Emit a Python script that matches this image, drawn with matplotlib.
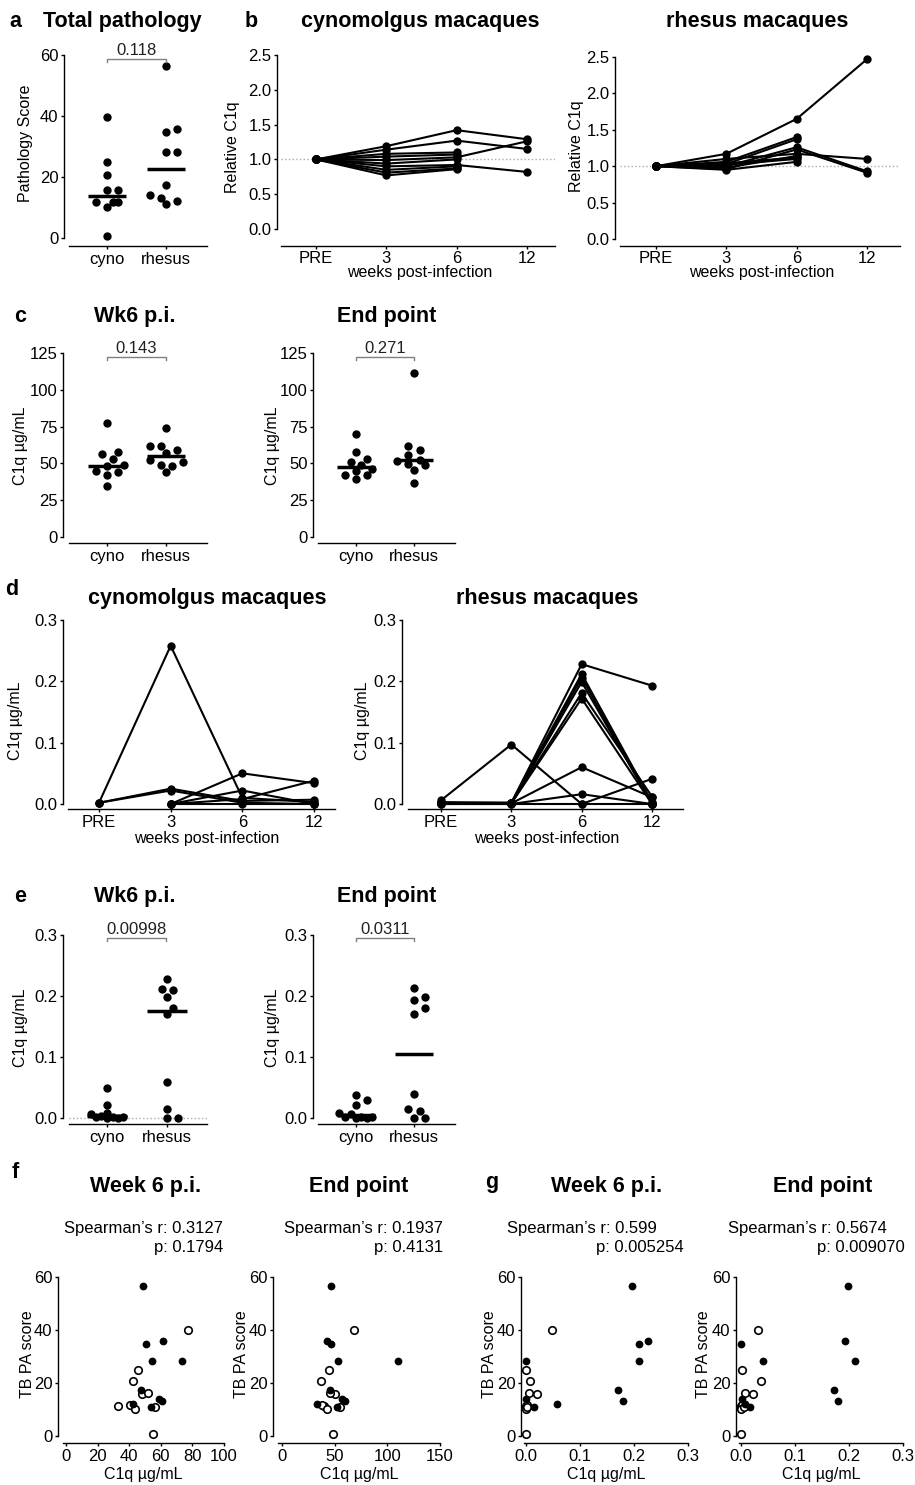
import numpy as np
import matplotlib
matplotlib.use('Agg')
import matplotlib.pyplot as plt
from matplotlib.lines import Line2D

plt.rcParams['font.family'] = ['Liberation Sans', 'DejaVu Sans']

# ---- data ----
groups = ['cyno', 'rhesus']
weeks = ['PRE', '3', '6', '12']
nan = np.nan

# a: total pathology score
path_cyno = [39.8, 24.8, 20.8, 15.8, 15.8, 11.8, 11.8, 11.8, 10.1, 0.7]
path_rhesus = [56.5, 35.9, 34.8, 28.2, 28.2, 17.3, 14.0, 13.2, 12.2, 11.3]
p_path = '0.118'

# b: relative C1q over time (PRE, 3, 6, 12 weeks)
rel_cyno = [
    [1, 1.19, 1.42, 1.29],
    [1, 1.14, 1.27, 1.15],
    [1, 1.08, 1.10, nan],
    [1, 1.04, 1.07, nan],
    [1, 0.99, 1.03, 1.26],
    [1, 0.94, 1.00, nan],
    [1, 0.90, 0.92, 0.82],
    [1, 0.85, 0.90, nan],
    [1, 0.81, 0.87, nan],
    [1, 0.77, 0.86, nan],
]
rel_rhesus = [
    [1, 1.17, 1.65, 2.47],
    [1, 1.06, 1.40, nan],
    [1, 1.03, 1.37, nan],
    [1, 1.00, 1.26, 0.93],
    [1, 0.96, 1.23, 0.91],
    [1, 1.10, 1.17, 1.10],
    [1, 0.98, 1.14, nan],
    [1, 1.02, 1.10, nan],
    [1, 0.95, 1.06, nan],
    [1, 1.04, 1.12, nan],
]

# c: C1q ug/mL
c_wk6_cyno = [77.4, 57.5, 56.6, 52.8, 49.1, 48.0, 44.6, 43.9, 41.9, 34.4]
c_wk6_rhesus = [74.0, 61.6, 61.6, 59.3, 57.0, 52.5, 50.7, 49.1, 48.5, 44.2]
c_end_cyno = [70.2, 57.5, 53.2, 50.7, 49.1, 46.5, 45.0, 41.9, 41.9, 39.4]
c_end_rhesus = [111.4, 61.6, 59.3, 55.5, 52.5, 51.5, 49.5, 49.0, 45.3, 36.7]
p_c_wk6 = '0.143'
p_c_end = '0.271'

# d: C1q ug/mL over time
d_cyno = [
    [0.002, 0.258, 0.010, 0.003],
    [0.002, 0.025, 0.005, 0.007],
    [0.002, 0.022, 0.002, 0.000],
    [nan, 0.000, 0.050, 0.034],
    [nan, 0.000, 0.022, 0.000],
    [nan, 0.000, 0.008, 0.038],
    [nan, 0.000, 0.000, 0.000],
]
d_rhesus = [
    [0.006, 0.097, 0.000, 0.041],
    [0.003, 0.002, 0.228, 0.193],
    [0.002, 0.002, 0.212, 0.003],
    [0.001, 0.001, 0.206, 0.000],
    [0.001, 0.001, 0.199, 0.000],
    [0.001, 0.001, 0.181, 0.012],
    [0.001, 0.001, 0.172, 0.000],
    [0.001, 0.001, 0.060, 0.011],
    [0.000, 0.000, 0.016, 0.000],
    [0.000, 0.000, 0.000, 0.000],
]

# e: C1q ug/mL
e_wk6_cyno = [0.049, 0.021, 0.008, 0.007, 0.003, 0.002, 0.001, 0.001, 0.0, 0.0]
e_wk6_rhesus = [0.228, 0.212, 0.210, 0.198, 0.181, 0.171, 0.059, 0.015, 0.0, 0.0]
e_end_cyno = [0.037, 0.030, 0.021, 0.008, 0.007, 0.002, 0.001, 0.001, 0.0, 0.0]
e_end_rhesus = [0.213, 0.198, 0.193, 0.180, 0.171, 0.040, 0.015, 0.011, 0.0, 0.0]
p_e_wk6 = '0.00998'
p_e_end = '0.0311'

# f/g: TB PA score vs C1q
score_rhesus = [56.6, 34.9, 35.9, 28.4, 28.4, 17.3, 13.8, 13.3, 11.9, 11.0]
score_cyno = [39.9, 24.8, 20.8, 15.7, 16.1, 11.3, 11.7, 10.3, 11.0, 0.6]
f_wk6_rhesus = [48.5, 50.6, 61.2, 54.2, 73.6, 47.5, 59.1, 61.0, 42.6, 53.6]
f_wk6_cyno = [77.0, 45.4, 42.6, 47.9, 52.1, 33.1, 40.5, 43.7, 56.3, 55.3]
f_end_rhesus = [46.7, 46.7, 42.6, 52.7, 110.5, 45.8, 56.8, 59.4, 33.2, 52.1]
f_end_cyno = [67.9, 44.2, 36.9, 50.5, 45.8, 40.1, 37.9, 42.6, 55.3, 48.0]
g_wk6_rhesus = [0.196, 0.209, 0.226, 0.210, 0.0, 0.170, 0.0, 0.179, 0.057, 0.014]
g_wk6_cyno = [0.049, 0.0, 0.007, 0.020, 0.006, 0.0, 0.002, 0.0, 0.001, 0.0]
g_end_rhesus = [0.198, 0.0, 0.192, 0.212, 0.040, 0.172, 0.001, 0.180, 0.008, 0.016]
g_end_cyno = [0.031, 0.001, 0.037, 0.022, 0.008, 0.0, 0.002, 0.0, 0.005, 0.0]
spearman = {
    'f_wk6': ('0.3127', '0.1794'),
    'f_end': ('0.1937', '0.4131'),
    'g_wk6': ('0.599', '0.005254'),
    'g_end': ('0.5674', '0.009070'),
}

# ---- layout (all in pixels of the 915x1485 canvas) ----
W, H = 915, 1485
fig = plt.figure(figsize=(W / 100, H / 100), dpi=100)
FS = 12
LFS = 11.5
TFS = 15.5


def lin(p, pa, va, pb, vb):
    return va + (p - pa) * (vb - va) / (pb - pa)


def panel(spine_x, x0, x1, top, bottom, xmap, ymap, ybounds):
    ax = fig.add_axes([x0 / W, 1 - bottom / H, (x1 - x0) / W, (bottom - top) / H])
    (pa, va), (pb, vb) = xmap
    ax.set_xlim(lin(x0, pa, va, pb, vb), lin(x1, pa, va, pb, vb))
    (qa, wa), (qb, wb) = ymap
    ax.set_ylim(lin(bottom, qa, wa, qb, wb), lin(top, qa, wa, qb, wb))
    for s in ['top', 'right']:
        ax.spines[s].set_visible(False)
    ax.spines['left'].set_position(('outward', (x0 - spine_x) * 0.72))
    ax.spines['left'].set_bounds(*ybounds)
    for s in ['left', 'bottom']:
        ax.spines[s].set_linewidth(1.0)
    ax.tick_params(direction='out', length=2.5, width=1.0, labelsize=FS, pad=1.5)
    ax.patch.set_alpha(0)
    return ax


def ylab(ax, text, px, py, x0, x1, top, bottom):
    ax.set_ylabel(text, fontsize=LFS)
    ax.yaxis.label.set_va('center')
    ax.yaxis.set_label_coords((px - x0) / (x1 - x0), (bottom - py) / (bottom - top))


def xlab(ax, text, px, py, x0, x1, top, bottom, size=LFS):
    ax.set_xlabel(text, fontsize=size)
    ax.xaxis.label.set_va('center')
    ax.xaxis.set_label_coords((px - x0) / (x1 - x0), (bottom - py) / (bottom - top))


def ftext(x, y, s, **kw):
    fig.text(x / W, 1 - y / H, s, **kw)


def title(x, y, s):
    ftext(x, y, s, ha='center', va='baseline', fontsize=TFS, fontweight='bold')


def bracket(xa, xb, y, label):
    fig.add_artist(Line2D([xa / W, xa / W, xb / W, xb / W],
                          [1 - (y + 3) / H, 1 - y / H, 1 - y / H, 1 - (y + 3) / H],
                          transform=fig.transFigure, color='#808080', lw=1.0))
    ftext((xa + xb) / 2, y - 4, label, ha='center', va='baseline', fontsize=FS, color='#222222')


def swarm_x(ax, xc, vals, d, max_k=6):
    # spread nearly equal values sideways (Prism style); when the column is full, allow overlap
    pts = ax.transData.transform(np.column_stack([np.full(len(vals), xc), vals]))
    xs = pts[:, 0].copy()
    placed = []
    for i in np.argsort(pts[:, 1]):
        y = pts[i, 1]
        best, best_gap = pts[i, 0], -1
        for k in range(max_k + 1):
            off = ((k + 1) // 2) * (1 if k % 2 else -1) * d * 0.5
            x = pts[i, 0] + off
            gap = min([np.hypot(x - a, y - b) for a, b in placed] + [1e9])
            if gap >= d * 0.72:
                best = x
                break
            if gap > best_gap:
                best, best_gap = x, gap
        placed.append((best, y))
        xs[i] = best
    return ax.transData.inverted().transform(np.column_stack([xs, pts[:, 1]]))[:, 0]


def dot_panel(ax, data, ticks, fmt=None):
    for i, vals in enumerate(data):
        xs = swarm_x(ax, i, vals, 11)
        ax.plot(xs, vals, 'o', color='black', ms=6.0, mew=0, clip_on=False, zorder=3)
        m = np.median(vals)
        ax.plot([i - 0.33, i + 0.33], [m, m], color='black', lw=2.5, solid_capstyle='butt', zorder=4)
    ax.set_xticks(range(len(groups)))
    ax.set_xticklabels(groups)
    ax.set_yticks(ticks)
    if fmt:
        ax.set_yticklabels([fmt.format(t) for t in ticks])


def line_panel(ax, series, ticks, fmt):
    for s in series:
        ax.plot(range(len(weeks)), s, '-o', color='black', lw=1.5, ms=6.0, mew=0, clip_on=False, zorder=3)
    ax.set_xticks(range(len(weeks)))
    ax.set_xticklabels(weeks)
    ax.set_yticks(ticks)
    ax.set_yticklabels([fmt.format(t) for t in ticks])


def scatter_panel(ax, xr, xc, xticks, xfmt):
    ax.plot(xc, score_cyno, 'o', mfc='white', mec='black', mew=1.2, ms=5.4, clip_on=False, zorder=3)
    ax.plot(xr, score_rhesus, 'o', color='black', mew=0, ms=5.6, clip_on=False, zorder=4)
    ax.set_xticks(xticks)
    ax.set_xticklabels([xfmt.format(t) for t in xticks])
    ax.set_yticks([0, 20, 40, 60])


# ---- a ----
ax = panel(64, 69, 207, 55, 246, ((107, 0), (166, 1)), ((55, 60), (238, 0)), (0, 60))
dot_panel(ax, [path_cyno, path_rhesus], [0, 20, 40, 60])
ylab(ax, 'Pathology Score', 26, 143, 69, 207, 55, 246)
ftext(15, 27, 'a', ha='center', va='baseline', fontsize=TFS, fontweight='bold')
title(122, 27, 'Total pathology')
bracket(107, 166, 59, p_path)

# ---- b ----
rel_ticks = [0, 0.5, 1.0, 1.5, 2.0, 2.5]
ax = panel(277, 281, 555, 55, 246, ((316, 0), (527, 3)), ((55, 2.5), (229, 0)), (0, 2.5))
ax.axhline(1.0, color='#aaaaaa', lw=1.0, ls=':', zorder=1)
line_panel(ax, rel_cyno, rel_ticks, '{:.1f}')
ax.tick_params(axis='x', pad=1.0)
ylab(ax, 'Relative C1q', 232, 147, 281, 555, 55, 246)
xlab(ax, 'weeks post-infection', 420, 273, 281, 555, 55, 246)
ftext(251, 27, 'b', ha='center', va='baseline', fontsize=TFS, fontweight='bold')
title(420, 27, 'cynomolgus macaques')

ax = panel(615, 620, 900, 57, 246, ((656, 0), (867, 3)), ((57, 2.5), (239, 0)), (0, 2.5))
ax.axhline(1.0, color='#aaaaaa', lw=1.0, ls=':', zorder=1)
line_panel(ax, rel_rhesus, rel_ticks, '{:.1f}')
ax.tick_params(axis='x', pad=1.0)
ylab(ax, 'Relative C1q', 577, 146, 620, 900, 57, 246)
xlab(ax, 'weeks post-infection', 762, 273, 620, 900, 57, 246)
title(757, 27, 'rhesus macaques')

# ---- c ----
c_ticks = [0, 25, 50, 75, 100, 125]
ax = panel(63, 69, 207, 353, 543, ((107, 0), (166, 1)), ((353, 125), (537, 0)), (0, 125))
dot_panel(ax, [c_wk6_cyno, c_wk6_rhesus], c_ticks)
ylab(ax, 'C1q µg/mL', 21, 446, 69, 207, 353, 543)
ftext(20, 322, 'c', ha='center', va='baseline', fontsize=TFS, fontweight='bold')
title(135, 322, 'Wk6 p.i.')
bracket(107, 166, 357, p_c_wk6)

ax = panel(313, 318, 455, 353, 543, ((356, 0), (414, 1)), ((353, 125), (537, 0)), (0, 125))
dot_panel(ax, [c_end_cyno, c_end_rhesus], c_ticks)
ylab(ax, 'C1q µg/mL', 272, 446, 318, 455, 353, 543)
title(387, 322, 'End point')
bracket(356, 414, 357, p_c_end)

# ---- d ----
d_ticks = [0, 0.1, 0.2, 0.3]
ax = panel(63, 68, 335, 620, 809, ((99, 0), (314, 3)), ((620, 0.3), (804, 0)), (0, 0.3))
line_panel(ax, d_cyno, d_ticks, '{:.1f}')
ylab(ax, 'C1q µg/mL', 15, 721, 68, 335, 620, 809)
xlab(ax, 'weeks post-infection', 207, 838, 68, 335, 620, 809)
ftext(12, 595, 'd', ha='center', va='baseline', fontsize=TFS, fontweight='bold')
title(207, 604, 'cynomolgus macaques')

ax = panel(402, 408, 683, 620, 809, ((441, 0), (652, 3)), ((620, 0.3), (804, 0)), (0, 0.3))
line_panel(ax, d_rhesus, d_ticks, '{:.1f}')
ylab(ax, 'C1q µg/mL', 362, 721, 408, 683, 620, 809)
xlab(ax, 'weeks post-infection', 547, 838, 408, 683, 620, 809)
title(547, 604, 'rhesus macaques')

# ---- e ----
ax = panel(63, 69, 207, 935, 1124, ((107, 0), (167, 1)), ((935, 0.3), (1118, 0)), (0, 0.3))
ax.axhline(0.0, color='#aaaaaa', lw=1.0, ls=':', zorder=1)
dot_panel(ax, [e_wk6_cyno, e_wk6_rhesus], d_ticks, '{:.1f}')
ylab(ax, 'C1q µg/mL', 21, 1028, 69, 207, 935, 1124)
ftext(20, 902, 'e', ha='center', va='baseline', fontsize=TFS, fontweight='bold')
title(135, 902, 'Wk6 p.i.')
bracket(107, 166, 938, p_e_wk6)

ax = panel(313, 318, 455, 935, 1124, ((356, 0), (414, 1)), ((935, 0.3), (1118, 0)), (0, 0.3))
dot_panel(ax, [e_end_cyno, e_end_rhesus], d_ticks, '{:.1f}')
ylab(ax, 'C1q µg/mL', 272, 1028, 318, 455, 935, 1124)
title(387, 902, 'End point')
bracket(356, 414, 938, p_e_end)

# ---- f / g ----
specs = [
    # spine, x0, x1, xmap, rhesus x, cyno x, ticks, fmt, key, title x, ylabel x, spearman right edges
    (58, 63, 224, ((66, 0), (224, 100)), f_wk6_rhesus, f_wk6_cyno, [0, 20, 40, 60, 80, 100], '{:g}', 'f_wk6', 146, 27, (223, 223)),
    (273, 278, 440, ((282, 0), (440, 150)), f_end_rhesus, f_end_cyno, [0, 50, 100, 150], '{:g}', 'f_end', 359, 242, (443, 443)),
    (521, 524, 688, ((526, 0), (688, 0.3)), g_wk6_rhesus, g_wk6_cyno, [0, 0.1, 0.2, 0.3], '{:.1f}', 'g_wk6', 607, 489, (657, 684)),
    (736, 739, 903, ((741, 0), (903, 0.3)), g_end_rhesus, g_end_cyno, [0, 0.1, 0.2, 0.3], '{:.1f}', 'g_end', 823, 704, (887, 905)),
]
titles_fg = ['Week 6 p.i.', 'End point', 'Week 6 p.i.', 'End point']
for (sp, x0, x1, xmap, xr, xc, xt, xf, key, tx, lx, (r1, r2)), ttl in zip(specs, titles_fg):
    ax = panel(sp, x0, x1, 1277, 1443, xmap, ((1277, 60), (1436, 0)), (0, 60))
    scatter_panel(ax, xr, xc, xt, xf)
    ylab(ax, 'TB PA score', lx, 1354, x0, x1, 1277, 1443)
    xlab(ax, 'C1q µg/mL', (x0 + x1) / 2, 1475, x0, x1, 1277, 1443)
    title(tx, 1192, ttl)
    r, p = spearman[key]
    ftext(r1, 1233, 'Spearman’s r: ' + r, ha='right', va='baseline', fontsize=FS)
    ftext(r2, 1252, 'p: ' + p, ha='right', va='baseline', fontsize=FS)

ftext(15, 1178, 'f', ha='center', va='baseline', fontsize=TFS, fontweight='bold')
ftext(492, 1188, 'g', ha='center', va='baseline', fontsize=TFS, fontweight='bold')

fig.savefig('out.png', dpi=100)
